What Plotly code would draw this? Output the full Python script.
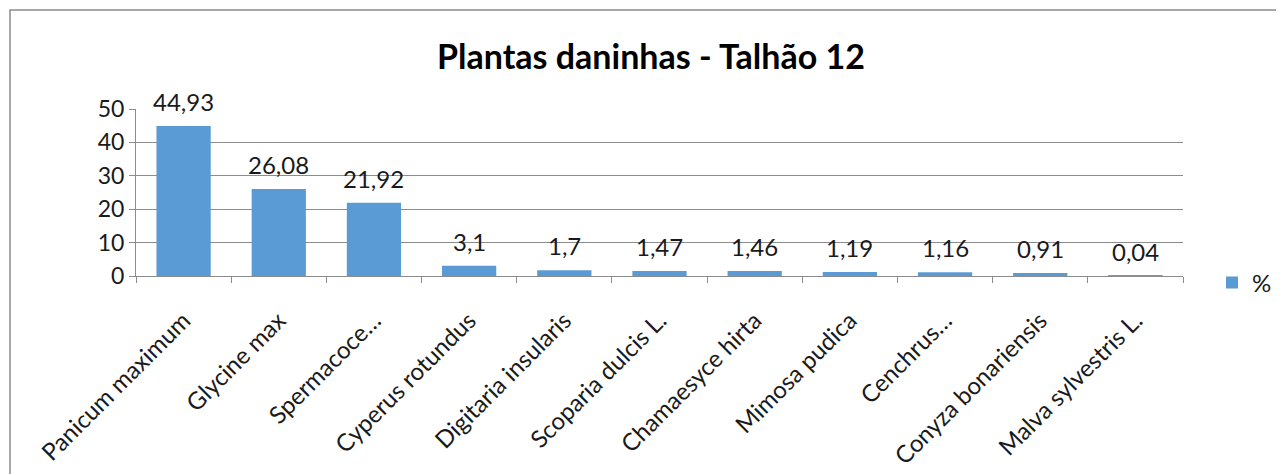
import plotly.graph_objects as go

especies = ["Panicum maximum", "Glycine max", "Spermacoce…", "Cyperus rotundus",
            "Digitaria insularis", "Scoparia dulcis L.", "Chamaesyce hirta",
            "Mimosa pudica", "Cenchrus…", "Conyza bonariensis", "Malva sylvestris L."]
percentual = [44.93, 26.08, 21.92, 3.1, 1.7, 1.47, 1.46, 1.19, 1.16, 0.91, 0.04]
rotulos = ["44,93", "26,08", "21,92", "3,1", "1,7", "1,47", "1,46", "1,19", "1,16", "0,91", "0,04"]
y_ticks = [0, 10, 20, 30, 40, 50]

# a página tem margem de 8px no body
OFF = 8
W, H = 1284 - OFF, 474 - OFF
L, T = 136 - OFF, 109 - OFF
R = W - (1183 - OFF)
B = H - (276 - OFF)
pw, ph = W - L - R, H - T - B
FONTE = "Lato"
COR_TXT = "#1a1a1a"

fig = go.Figure()
fig.add_trace(go.Bar(
    x=especies, y=percentual, name="%",
    marker=dict(color="#5B9BD5", line=dict(width=0)),
))

# rótulos de dados acima das barras
for esp, val, rot in zip(especies, percentual, rotulos):
    fig.add_annotation(x=esp, y=val, text=rot, showarrow=False,
                       yanchor="bottom", yshift=8,
                       font=dict(size=24, color=COR_TXT, family=FONTE))

# moldura do gráfico (estilo Excel)
fig.add_shape(type="rect", xref="paper", yref="paper",
              x0=(10 - OFF - L) / pw, x1=(W + 20 - L) / pw,
              y0=-(H + 20 - T - ph) / ph, y1=(H - B - (10 - OFF)) / ph,
              line=dict(color="#8c8c8c", width=1.5), layer="below")

fig.update_layout(
    width=W, height=H,
    margin=dict(l=L, r=R, t=T, b=B, autoexpand=False),
    paper_bgcolor="white", plot_bgcolor="white",
    separators=", ",
    title=dict(text="<b>Plantas daninhas - Talhão 12</b>", x=(651 - OFF) / W, xanchor="center",
               y=1 - (57 - OFF) / H, yanchor="middle",
               font=dict(size=34, color="black", family=FONTE)),
    bargap=0.43,
    showlegend=True,
    legend=dict(x=(1212 - OFF - L) / pw, y=-(283 - 276) / ph, xanchor="left", yanchor="middle",
                font=dict(size=24, color=COR_TXT, family=FONTE),
                itemwidth=30, bgcolor="rgba(0,0,0,0)"),
    font=dict(family=FONTE, color=COR_TXT),
)
fig.update_xaxes(
    tickangle=-45, tickfont=dict(size=24, family=FONTE, color=COR_TXT),
    ticklabelstandoff=20,
    showline=True, linecolor="#8c8c8c", linewidth=1,
    ticks="outside", tickson="boundaries", ticklen=6, tickcolor="#8c8c8c",
    automargin=False,
)
fig.update_yaxes(
    range=[0, 50], tickvals=y_ticks,
    tickfont=dict(size=23, family=FONTE, color=COR_TXT),
    showgrid=True, gridcolor="#8c8c8c", gridwidth=1,
    showline=True, linecolor="#8c8c8c", linewidth=1,
    ticks="outside", ticklen=6, tickcolor="#8c8c8c",
    zeroline=False, automargin=False,
)

fig.write_html("out.html")
